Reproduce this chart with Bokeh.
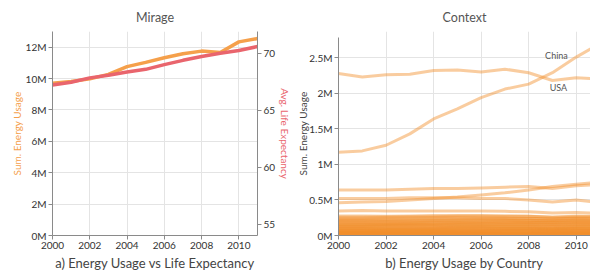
from bokeh.plotting import figure
from bokeh.layouts import row
from bokeh.models import Range1d, LinearAxis, FixedTicker, CustomJSTickFormatter
from bokeh.embed import file_html
from bokeh.resources import INLINE

# ---------------- data ----------------
years = [2000, 2001, 2002, 2003, 2004, 2005, 2006, 2007, 2008, 2009, 2010, 2011]

# panel a (millions / years)
energy_sum = [9.70, 9.81, 9.98, 10.27, 10.76, 11.03, 11.33, 11.58, 11.75, 11.66, 12.34, 12.55]
life_exp = [67.2, 67.45, 67.83, 68.06, 68.35, 68.58, 68.99, 69.37, 69.71, 70.0, 70.23, 70.58]

# panel b (millions)
china = [1.17, 1.19, 1.27, 1.43, 1.64, 1.78, 1.94, 2.06, 2.13, 2.29, 2.51, 2.70]
usa = [2.28, 2.23, 2.26, 2.27, 2.32, 2.33, 2.30, 2.34, 2.29, 2.18, 2.22, 2.20]
russia = [0.64, 0.64, 0.64, 0.65, 0.66, 0.66, 0.67, 0.68, 0.69, 0.66, 0.70, 0.72]
india = [0.46, 0.47, 0.48, 0.50, 0.52, 0.54, 0.57, 0.60, 0.64, 0.69, 0.72, 0.75]
japan = [0.52, 0.52, 0.52, 0.53, 0.53, 0.53, 0.52, 0.52, 0.50, 0.47, 0.50, 0.46]
small_countries = [
    [0.345, 0.35, 0.345, 0.345, 0.345, 0.345, 0.345, 0.34, 0.335, 0.315, 0.325, 0.31],
    [0.275, 0.275, 0.27, 0.275, 0.28, 0.28, 0.28, 0.275, 0.27, 0.26, 0.27, 0.27],
    [0.255, 0.255, 0.26, 0.265, 0.265, 0.27, 0.27, 0.27, 0.27, 0.255, 0.265, 0.26],
    [0.24, 0.24, 0.245, 0.245, 0.25, 0.25, 0.245, 0.245, 0.24, 0.23, 0.24, 0.235],
    [0.225, 0.225, 0.225, 0.23, 0.235, 0.235, 0.24, 0.24, 0.24, 0.235, 0.245, 0.25],
    [0.21, 0.21, 0.215, 0.215, 0.215, 0.22, 0.22, 0.22, 0.215, 0.205, 0.215, 0.21],
    [0.20, 0.20, 0.20, 0.205, 0.21, 0.21, 0.215, 0.215, 0.215, 0.21, 0.22, 0.22],
    [0.19, 0.185, 0.19, 0.19, 0.195, 0.195, 0.195, 0.20, 0.195, 0.19, 0.20, 0.195],
    [0.175, 0.175, 0.18, 0.18, 0.185, 0.185, 0.19, 0.19, 0.19, 0.185, 0.19, 0.19],
    [0.165, 0.165, 0.165, 0.17, 0.17, 0.175, 0.175, 0.18, 0.18, 0.175, 0.18, 0.18],
    [0.155, 0.155, 0.155, 0.16, 0.16, 0.165, 0.165, 0.165, 0.165, 0.16, 0.165, 0.165],
    [0.145, 0.145, 0.15, 0.15, 0.155, 0.155, 0.16, 0.16, 0.16, 0.155, 0.16, 0.16],
    [0.135, 0.135, 0.14, 0.14, 0.14, 0.145, 0.145, 0.15, 0.15, 0.145, 0.15, 0.15],
    [0.125, 0.125, 0.13, 0.13, 0.13, 0.135, 0.135, 0.135, 0.135, 0.13, 0.135, 0.14],
    [0.115, 0.115, 0.115, 0.12, 0.12, 0.12, 0.125, 0.125, 0.125, 0.12, 0.125, 0.125],
    [0.105, 0.105, 0.11, 0.11, 0.11, 0.115, 0.115, 0.115, 0.115, 0.11, 0.115, 0.115],
    [0.097, 0.097, 0.10, 0.10, 0.10, 0.105, 0.105, 0.105, 0.105, 0.10, 0.105, 0.108],
    [0.09, 0.09, 0.09, 0.092, 0.094, 0.095, 0.096, 0.097, 0.097, 0.094, 0.098, 0.10],
    [0.082, 0.082, 0.083, 0.085, 0.086, 0.087, 0.088, 0.089, 0.089, 0.086, 0.09, 0.091],
    [0.075, 0.075, 0.076, 0.077, 0.078, 0.079, 0.08, 0.081, 0.081, 0.078, 0.082, 0.083],
    [0.068, 0.068, 0.069, 0.07, 0.071, 0.072, 0.072, 0.073, 0.073, 0.071, 0.074, 0.075],
    [0.061, 0.061, 0.062, 0.063, 0.064, 0.065, 0.065, 0.066, 0.066, 0.064, 0.067, 0.068],
    [0.055, 0.055, 0.056, 0.057, 0.057, 0.058, 0.058, 0.059, 0.059, 0.057, 0.06, 0.061],
    [0.049, 0.049, 0.05, 0.05, 0.051, 0.052, 0.052, 0.053, 0.053, 0.051, 0.054, 0.054],
    [0.043, 0.043, 0.044, 0.044, 0.045, 0.045, 0.046, 0.046, 0.046, 0.045, 0.047, 0.048],
    [0.037, 0.037, 0.038, 0.038, 0.039, 0.039, 0.04, 0.04, 0.04, 0.039, 0.041, 0.041],
    [0.031, 0.031, 0.032, 0.032, 0.033, 0.033, 0.034, 0.034, 0.034, 0.033, 0.035, 0.035],
    [0.026, 0.026, 0.026, 0.027, 0.027, 0.028, 0.028, 0.028, 0.028, 0.027, 0.029, 0.029],
    [0.021, 0.021, 0.021, 0.022, 0.022, 0.022, 0.023, 0.023, 0.023, 0.022, 0.023, 0.024],
    [0.016, 0.016, 0.016, 0.017, 0.017, 0.017, 0.018, 0.018, 0.018, 0.017, 0.018, 0.018],
    [0.011, 0.011, 0.011, 0.012, 0.012, 0.012, 0.012, 0.013, 0.013, 0.012, 0.013, 0.013],
    [0.007, 0.007, 0.007, 0.007, 0.008, 0.008, 0.008, 0.008, 0.008, 0.008, 0.008, 0.009],
    [0.003, 0.003, 0.003, 0.003, 0.004, 0.004, 0.004, 0.004, 0.004, 0.004, 0.004, 0.004],
]

year_ticks = [2000, 2002, 2004, 2006, 2008, 2010]
energy_ticks = [0, 2, 4, 6, 8, 10, 12]
life_ticks = [55, 60, 65, 70]
country_ticks = [0, 0.5, 1, 1.5, 2, 2.5]

# ---------------- style ----------------
FONT = "Lato"
ORANGE = "#f5a04b"
RED = "#e9656d"
CTX = "#f28e2b"
TXT = "#444444"
GRID = "#e4e4e4"
AXIS = "#8a8a8a"
H = 273

mfmt = CustomJSTickFormatter(code="return tick + 'M';")


def style_axis(ax):
    ax.axis_line_color = AXIS
    ax.major_tick_line_color = AXIS
    ax.major_tick_out = 4
    ax.major_tick_in = 0
    ax.minor_tick_line_color = None
    ax.major_label_text_font = FONT
    ax.major_label_text_font_size = "10px"
    ax.major_label_text_color = "#333333"
    ax.major_label_standoff = 2
    ax.axis_label_text_font = FONT
    ax.axis_label_text_font_style = "normal"
    ax.axis_label_text_font_size = "10px"


def base(title, width, xr, yr, left, right, top):
    p = figure(width=width, height=H, x_range=xr, y_range=yr,
               output_backend="svg", toolbar_location=None, title=title,
               min_border_left=left, min_border_right=right,
               min_border_top=top, min_border_bottom=0)
    p.title.align = "center"
    p.title.text_font = FONT
    p.title.text_font_style = "normal"
    p.title.text_font_size = "12.5px"
    p.title.text_color = "#555555"
    p.title.standoff = 14
    p.outline_line_color = None
    p.xgrid.grid_line_color = GRID
    p.ygrid.grid_line_color = GRID
    p.xaxis.ticker = FixedTicker(ticks=year_ticks)
    for ax in p.xaxis + p.yaxis:
        style_axis(ax)
    p.xaxis.axis_label_text_font_size = "13px"
    p.xaxis.axis_label_text_color = TXT
    p.xaxis.axis_label_standoff = 3
    return p


# ---------------- panel a ----------------
p1 = base("Mirage", 294, Range1d(2000, 2011), Range1d(0, 13), 52, 37, 30)
p1.extra_y_ranges = {"life": Range1d(54, 71.9)}
p1.yaxis.ticker = FixedTicker(ticks=energy_ticks)
p1.yaxis.formatter = mfmt
p1.yaxis.axis_label = "Sum. Energy Usage"
p1.yaxis.axis_label_text_color = ORANGE
p1.yaxis.axis_label_standoff = 0
p1.xaxis.axis_label = "a) Energy Usage vs Life Expectancy"

rax = LinearAxis(y_range_name="life", ticker=FixedTicker(ticks=life_ticks),
                 axis_label="Avg. Life Expectancy")
style_axis(rax)
rax.axis_label_text_color = RED
rax.axis_label_standoff = 1
p1.add_layout(rax, "right")

p1.line(years, energy_sum, line_color=ORANGE, line_width=3.5)
p1.line(years, life_exp, line_color=RED, line_width=3.5, y_range_name="life")

# ---------------- panel b ----------------
p2 = base("Context", 296, Range1d(2000, 2010.6), Range1d(0, 2.87), 44, 0, 30)
p2.yaxis.ticker = FixedTicker(ticks=country_ticks)
p2.yaxis.formatter = mfmt
p2.yaxis.bounds = (0, 2.78)
p2.yaxis.axis_label = "Sum. Energy Usage"
p2.yaxis.axis_label_text_color = TXT
p2.yaxis.axis_label_standoff = -3
p2.xaxis.axis_label = "b) Energy Usage by Country"

for series in small_countries + [japan, india, russia, usa, china]:
    p2.line(years, series, line_color=CTX, line_width=3, line_alpha=0.45)

p2.text(x=[years[9]], y=[china[9]], text=["China"], x_offset=4, y_offset=-17,
        text_align="center", text_baseline="middle", text_font_size="9px",
        text_color="#555555", text_font={"value": FONT})
p2.text(x=[years[9]], y=[usa[9]], text=["USA"], x_offset=6, y_offset=7,
        text_align="center", text_baseline="middle", text_font_size="9px",
        text_color="#555555", text_font={"value": FONT})

layout = row(p1, p2)
open("out.html", "w").write(file_html(layout, INLINE))
